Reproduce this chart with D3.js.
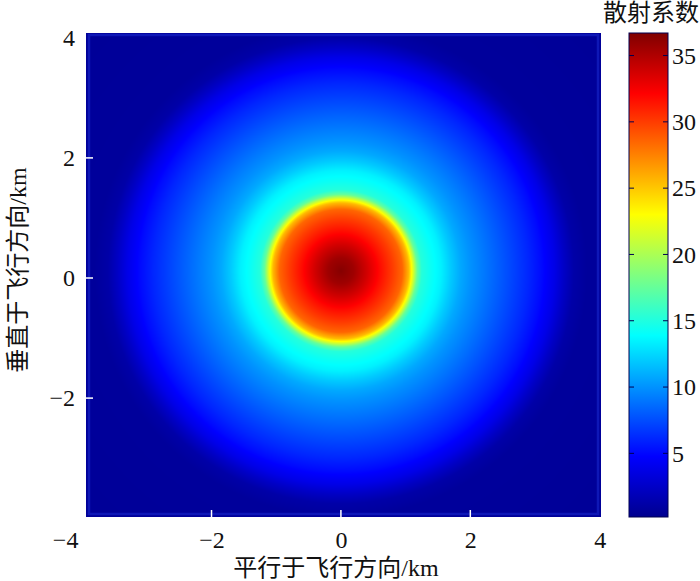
<!DOCTYPE html>
<html>
<head>
<meta charset="utf-8">
<script src="https://cdn.jsdelivr.net/npm/d3@7"></script>
<style>
  body { margin: 0; background: #fff; }
  svg text { font-family: "Liberation Serif", "Noto Sans CJK SC", serif; fill: #111; }
</style>
</head>
<body>
<div id="chart"></div>
<script>
// radial profile of the scattering coefficient (km from centre -> value)
const profileRadius = [0, 0.2, 0.4, 0.6, 0.8, 0.95, 1.05, 1.12, 1.18, 1.25, 1.4, 1.55, 1.7, 1.85, 2.0, 2.3, 2.6, 2.9, 3.1, 3.3, 3.45, 3.6, 3.8, 6.0];
const profileValue = [36.5, 35.6, 33.8, 31.8, 30.0, 28.5, 25.5, 21.5, 17.5, 15.2, 14.2, 13.4, 12.0, 10.8, 10.0, 8.7, 7.4, 6.1, 5.1, 3.8, 2.4, 1.2, 0.7, 0.5];
const centre = [0, 0.12];

const xTicks = [-4, -2, 0, 2, 4];
const yTicks = [-2, 0, 2, 4];
const cTicks = [5, 10, 15, 20, 25, 30, 35];

// matlab jet colormap stops
const jetPos = [0, 0.125, 0.375, 0.625, 0.875, 1];
const jetColors = ['#00008f', '#0000ff', '#00ffff', '#ffff00', '#ff0000', '#800000'];

const cMin = 0.2, cMax = 36.7;

const width = 700, height = 581;
const svg = d3.select('#chart').append('svg')
  .attr('width', width)
  .attr('height', height);

const x = d3.scaleLinear([-3.94, 4.02], [86, 601]);
const y = d3.scaleLinear([-3.98, 4.08], [517, 33]);
const cy = d3.scaleLinear([cMin, cMax], [517, 33]);

const color = d3.scaleLinear()
  .domain(jetPos.map(p => cMin + p * (cMax - cMin)))
  .range(jetColors)
  .clamp(true);

const profile = d3.scaleLinear(profileRadius, profileValue).clamp(true);

// pixels per km differ slightly between axes; the blob is round on screen
const aspect = (x(1) - x(0)) / (y(0) - y(1));

// heatmap rendered on a canvas, then dropped into the svg
const pw = Math.round(x.range()[1] - x.range()[0]);
const ph = Math.round(y.range()[0] - y.range()[1]);
const canvas = document.createElement('canvas');
canvas.width = pw;
canvas.height = ph;
const ctx = canvas.getContext('2d');
const img = ctx.createImageData(pw, ph);
for (let j = 0; j < ph; j++) {
  const yv = y.invert(y.range()[1] + j + 0.5);
  for (let i = 0; i < pw; i++) {
    const xv = x.invert(x.range()[0] + i + 0.5);
    const dx = xv - centre[0];
    const dy = (yv - centre[1]) / aspect;
    const c = d3.rgb(color(profile(Math.sqrt(dx * dx + dy * dy))));
    const k = (j * pw + i) * 4;
    img.data[k] = c.r; img.data[k + 1] = c.g; img.data[k + 2] = c.b; img.data[k + 3] = 255;
  }
}
ctx.putImageData(img, 0, 0);

svg.append('image')
  .attr('x', x.range()[0])
  .attr('y', y.range()[1])
  .attr('width', pw)
  .attr('height', ph)
  .attr('href', canvas.toDataURL());

// faint lighter edge of the data image
svg.append('rect')
  .attr('x', x.range()[0] + 3)
  .attr('y', y.range()[1] + 2)
  .attr('width', pw - 6)
  .attr('height', ph - 5)
  .attr('fill', 'none')
  .attr('stroke', '#1a2ad0')
  .attr('stroke-width', 2.5)
  .attr('opacity', 0.55);

// x axis
const xAxis = svg.append('g')
  .attr('transform', `translate(0,${y.range()[0]})`)
  .call(d3.axisBottom(x).tickValues(xTicks).tickSize(0).tickPadding(14)
    .tickFormat(d => d < 0 ? '\u2212' + Math.abs(d) : d));
xAxis.select('.domain').remove();
xAxis.selectAll('text').attr('font-size', 24).attr('dy', '0.71em');
xAxis.selectAll('.tick').filter(d => d === -4).select('text').attr('dx', -17);

svg.append('g').selectAll('line')
  .data(xTicks.filter(d => d > -3.9 && d < 3.9))
  .join('line')
  .attr('x1', d => x(d)).attr('x2', d => x(d))
  .attr('y1', y.range()[0]).attr('y2', y.range()[0] - 7)
  .attr('stroke', '#fff').attr('stroke-width', 1.5);

// y axis
const yAxis = svg.append('g')
  .attr('transform', `translate(${x.range()[0]},0)`)
  .call(d3.axisLeft(y).tickValues(yTicks).tickSize(0).tickPadding(11)
    .tickFormat(d => d < 0 ? '\u2212' + Math.abs(d) : d));
yAxis.select('.domain').remove();
yAxis.selectAll('text').attr('font-size', 24);

svg.append('g').selectAll('line')
  .data(yTicks.filter(d => d < 4))
  .join('line')
  .attr('x1', x.range()[0]).attr('x2', x.range()[0] + 7)
  .attr('y1', d => y(d)).attr('y2', d => y(d))
  .attr('stroke', '#fff').attr('stroke-width', 1.5);

// axis titles
svg.append('text')
  .attr('x', 336).attr('y', 576)
  .attr('text-anchor', 'middle')
  .attr('font-size', 24)
  .text('平行于飞行方向/km');

svg.append('text')
  .attr('transform', 'translate(26,270) rotate(-90)')
  .attr('text-anchor', 'middle')
  .attr('font-size', 24)
  .text('垂直于飞行方向/km');

// colorbar
const cbX = 629, cbW = 39;
const grad = svg.append('defs').append('linearGradient')
  .attr('id', 'jet')
  .attr('x1', 0).attr('y1', 1).attr('x2', 0).attr('y2', 0);
grad.selectAll('stop')
  .data(jetPos)
  .join('stop')
  .attr('offset', d => d)
  .attr('stop-color', (d, i) => jetColors[i]);

svg.append('rect')
  .attr('x', cbX).attr('y', cy(cMax))
  .attr('width', cbW).attr('height', cy(cMin) - cy(cMax))
  .attr('fill', 'url(#jet)')
  .attr('stroke', '#000050').attr('stroke-width', 1);

const cAxis = svg.append('g')
  .attr('transform', `translate(${cbX + cbW},0)`)
  .call(d3.axisRight(cy).tickValues(cTicks).tickSize(0).tickPadding(4));
cAxis.select('.domain').remove();
cAxis.selectAll('text').attr('font-size', 24);

const cTickLines = svg.append('g').selectAll('g')
  .data(cTicks)
  .join('g');
cTickLines.append('line')
  .attr('x1', cbX + cbW).attr('x2', cbX + cbW - 5)
  .attr('y1', d => cy(d)).attr('y2', d => cy(d))
  .attr('stroke', '#000050');
cTickLines.append('line')
  .attr('x1', cbX).attr('x2', cbX + 5)
  .attr('y1', d => cy(d)).attr('y2', d => cy(d))
  .attr('stroke', '#000050');

svg.append('text')
  .attr('x', 651).attr('y', 21)
  .attr('text-anchor', 'middle')
  .attr('font-size', 24)
  .text('散射系数');
</script>
</body>
</html>
